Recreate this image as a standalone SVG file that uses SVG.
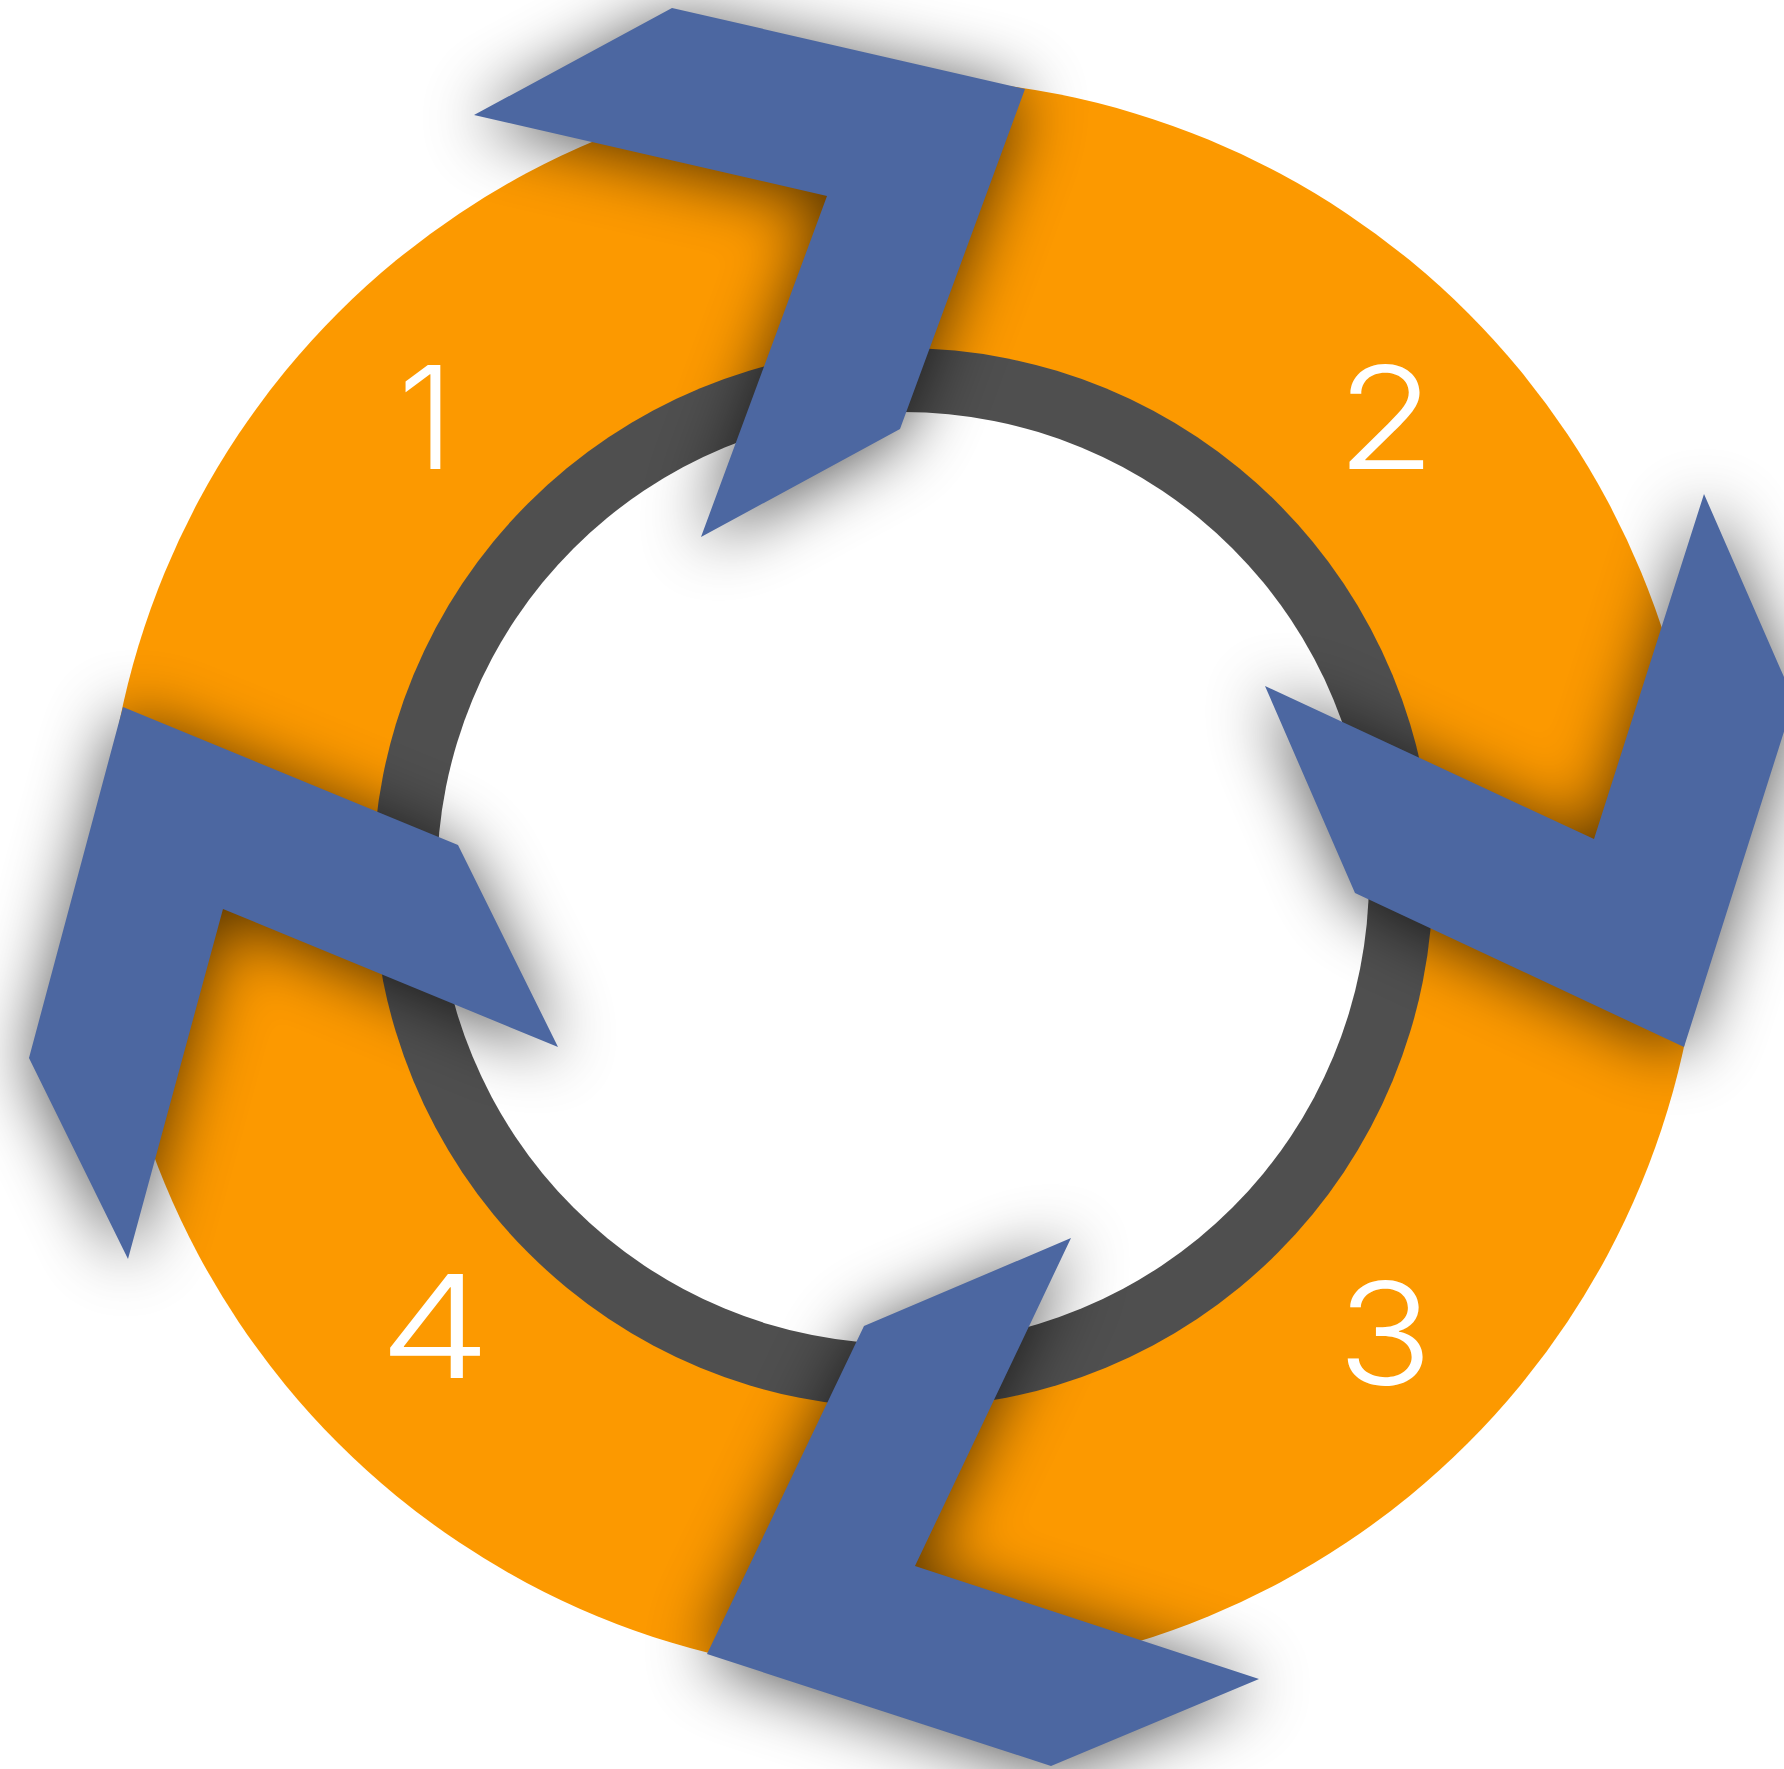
<svg xmlns="http://www.w3.org/2000/svg" xmlns:xlink="http://www.w3.org/1999/xlink" width="1784" height="1769" viewBox="0 0 1784 1769">
  <defs>
    <style>
      .blue{fill:#4C67A1}
      .sh{fill:#000;opacity:0.68;filter:url(#blur)}
      .num{font-family:Inter,"Open Sans","Liberation Sans",sans-serif;font-weight:300;font-size:143px;fill:#FFFFFF;text-anchor:middle}
    </style>
    <filter id="blur" x="-50%" y="-50%" width="200%" height="200%">
      <feGaussianBlur stdDeviation="34"/>
    </filter>
    <polygon id="p-top" points="672,8 1025,89 900,429 701,537 827,196 474,115"/>
    <polygon id="p-right" points="1704,494 1794,700 1684,1047 1355,893 1265,686 1594,839"/>
    <polygon id="p-bottom" points="1071,1238 915,1566 1259,1679 1051,1766 707,1654 864,1326"/>
    <polygon id="p-left" points="123,707 458,845 558,1047 223,909 128,1259 29,1058"/>
  </defs>
  <rect x="0" y="0" width="1784" height="1769" fill="#FFFFFF"/>
  <g id="ring">
    <circle cx="903" cy="878" r="799" fill="#FC9900"/>
    <circle cx="903" cy="878" r="530" fill="#4F4F4F"/>
    <circle cx="903" cy="878" r="466" fill="#FFFFFF"/>
  </g>
  <g id="shadows">
    <use xlink:href="#p-top" class="sh" transform="translate(0,6)"/>
    <use xlink:href="#p-right" class="sh" transform="translate(0,6)"/>
    <use xlink:href="#p-bottom" class="sh" transform="translate(0,6)"/>
    <use xlink:href="#p-left" class="sh" transform="translate(0,6)"/>
  </g>
  <g id="arrow-top"><use xlink:href="#p-top" class="blue"/></g>
  <g id="arrow-right"><use xlink:href="#p-right" class="blue"/></g>
  <g id="arrow-bottom"><use xlink:href="#p-bottom" class="blue"/></g>
  <g id="arrow-left"><use xlink:href="#p-left" class="blue"/></g>
  <g id="label-1"><text class="num" x="426" y="469">1</text></g>
  <g id="label-2"><text class="num" x="1386" y="469" transform="matrix(1.13,0,0,1,-180.18,0)">2</text></g>
  <g id="label-3"><text class="num" x="1385" y="1385" transform="matrix(1.1,0,0,1,-138.5,0)">3</text></g>
  <g id="label-4"><text class="num" x="435" y="1378" transform="matrix(1.25,0,0,1,-108.75,0)">4</text></g>
</svg>
